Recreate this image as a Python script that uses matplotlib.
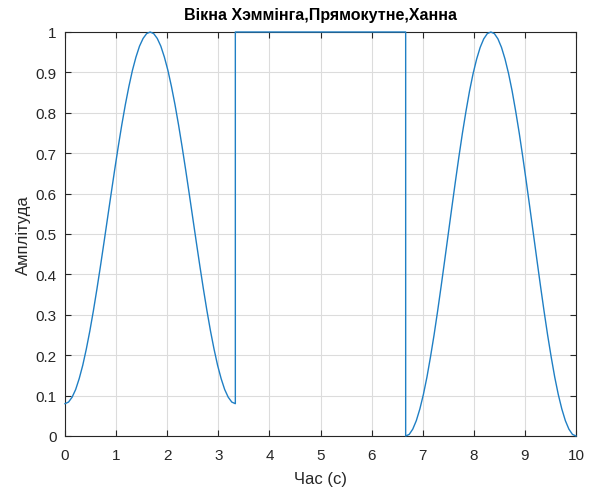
import numpy as np
import matplotlib.pyplot as plt

plt.rcParams['font.family'] = ['Liberation Sans', 'DejaVu Sans']

# значення (половина вікна, далі дзеркально)
hamming_half = [0.08, 0.084, 0.096, 0.115, 0.142, 0.175, 0.215, 0.260, 0.31, 0.364, 0.421, 0.480,
                0.54, 0.600, 0.659, 0.716, 0.77, 0.820, 0.865, 0.905, 0.938, 0.965, 0.984, 0.996, 1.0]
hann_half = [0.0, 0.004, 0.017, 0.038, 0.067, 0.103, 0.146, 0.196, 0.25, 0.309, 0.371, 0.435,
             0.5, 0.565, 0.629, 0.691, 0.75, 0.804, 0.854, 0.897, 0.933, 0.962, 0.983, 0.996, 1.0]
rect_vals = [1.0, 1.0]

hamming = hamming_half + hamming_half[-2::-1]
hann = hann_half + hann_half[-2::-1]

t1 = np.linspace(0, 10 / 3, len(hamming))
t2 = np.linspace(10 / 3, 20 / 3, len(rect_vals))
t3 = np.linspace(20 / 3, 10, len(hann))

t = np.concatenate([t1, t2, t3])
y = np.concatenate([hamming, rect_vals, hann])

fig = plt.figure(figsize=(5.95, 4.89), dpi=100)
ax = fig.add_axes([65 / 595, 1 - 437 / 489, 511 / 595, 404 / 489])
ax.plot(t, y, color='#1f7fc4', lw=1.0, clip_on=False, zorder=5)

ax.set_xlim(0, 10)
ax.set_ylim(0, 1)
ax.set_xticks(range(0, 11))
ax.set_yticks(np.arange(0, 1.01, 0.1))
ax.set_yticklabels(['0', '0.1', '0.2', '0.3', '0.4', '0.5', '0.6', '0.7', '0.8', '0.9', '1'])
ax.grid(True, color='#dcdcdc', lw=0.8)
ax.set_axisbelow(True)
ax.tick_params(direction='in', top=True, right=True, length=4, labelsize=11,
               colors='#262626')
ax.tick_params(axis='x', pad=9)
ax.tick_params(axis='y', pad=6)
for s in ax.spines.values():
    s.set_color('#262626')
    s.set_linewidth(0.8)

ax.set_title('Вікна Хэммінга,Прямокутне,Ханна', fontsize=11.5, fontweight='bold', pad=9)
ax.set_xlabel('Час (с)', fontsize=12, color='#262626', labelpad=6)
ax.set_ylabel('Амплітуда', fontsize=12, color='#262626', labelpad=3)

fig.savefig('out.png', dpi=100)
